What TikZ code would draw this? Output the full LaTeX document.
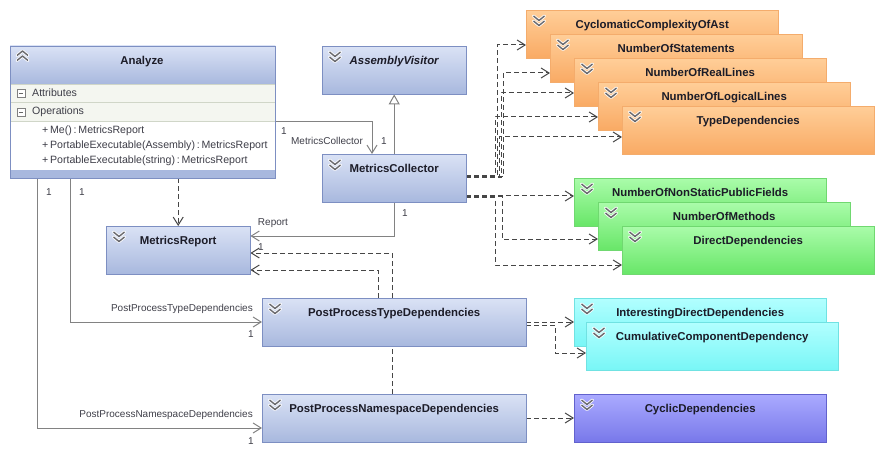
\documentclass[tikz,border=0pt]{standalone}
\usepackage{fontspec}
\setmainfont{Liberation Sans}
\usetikzlibrary{arrows.meta,backgrounds}

\definecolor{clstop}{RGB}{218,226,245}
\definecolor{clsbot}{RGB}{168,184,222}
\definecolor{clsline}{RGB}{125,143,194}
\definecolor{ortop}{RGB}{255,206,152}
\definecolor{orbot}{RGB}{249,170,100}
\definecolor{orline}{RGB}{244,172,108}
\definecolor{grtop}{RGB}{170,252,170}
\definecolor{grbot}{RGB}{104,230,104}
\definecolor{grline}{RGB}{112,216,112}
\definecolor{cytop}{RGB}{178,255,255}
\definecolor{cybot}{RGB}{120,246,246}
\definecolor{cyline}{RGB}{112,226,226}
\definecolor{putop}{RGB}{170,170,255}
\definecolor{pubot}{RGB}{120,120,234}
\definecolor{puline}{RGB}{98,98,205}
\definecolor{rowbg}{RGB}{244,246,240}
\definecolor{rowline}{RGB}{208,214,200}
\definecolor{txtdark}{RGB}{28,28,40}
\definecolor{linegray}{RGB}{130,130,130}
\definecolor{dashgray}{RGB}{70,70,70}
\definecolor{chevgray}{RGB}{105,105,110}

\newcommand\ttlfont{\fontsize{11.4}{13}\selectfont\bfseries}
\newcommand\lblfont{\fontsize{10}{12}\selectfont}
\newcommand\opsfont{\fontsize{10.6}{12}\selectfont}

\tikzset{
  chevdn/.pic={
    \draw[white, line width=3pt, line cap=round, line join=round]
      (-5.5,0) -- (0,4.5) -- (5.5,0) (-5.5,5) -- (0,9.5) -- (5.5,5);
    \draw[chevgray, line width=1.4pt, line join=round]
      (-5.5,0) -- (0,4.5) -- (5.5,0) (-5.5,5) -- (0,9.5) -- (5.5,5);
  },
  chevup/.pic={
    \draw[white, line width=3pt, line cap=round, line join=round]
      (-5.5,4.5) -- (0,0) -- (5.5,4.5) (-5.5,9.5) -- (0,5) -- (5.5,9.5);
    \draw[chevgray, line width=1.4pt, line join=round]
      (-5.5,4.5) -- (0,0) -- (5.5,4.5) (-5.5,9.5) -- (0,5) -- (5.5,9.5);
  }
}

\begin{document}
\begin{tikzpicture}[x=1pt,y=-1pt,
  clsbox/.style={draw=clsline, top color=clstop, bottom color=clsbot, anchor=north west,
    inner sep=0pt, minimum width=144, minimum height=48, text height=18pt, text depth=30pt,
    font=\ttlfont, text=txtdark},
  wide/.style={minimum width=252},
  metbox/.style={clsbox, wide, draw=orline, top color=ortop, bottom color=orbot},
  grnbox/.style={clsbox, wide, draw=grline, top color=grtop, bottom color=grbot},
  cynbox/.style={clsbox, wide, draw=cyline, top color=cytop, bottom color=cybot},
  cycbox/.style={clsbox, wide, draw=puline, top color=putop, bottom color=pubot},
  anbox/.style={draw=clsline, fill=white, anchor=north west, inner sep=0pt,
    minimum width=265, minimum height=132},
  minusbox/.style={draw=gray, fill=white, minimum size=8, inner sep=0pt,
    path picture={\draw[gray!80!black] ([xshift=2pt]path picture bounding box.west)
      -- ([xshift=-2pt]path picture bounding box.east);}},
  lbl/.style={font=\lblfont, text=txtdark!85, inner sep=0pt},
  opl/.style={font=\opsfont, text=txtdark!85, inner sep=0pt, anchor=west},
  assoc/.style={draw=linegray, line width=1pt, -{Straight Barb[length=8pt,width=10pt]}},
  dep/.style={draw=dashgray, line width=1pt, dash pattern=on 5pt off 3pt,
    -{Straight Barb[length=8pt,width=10pt]}},
  gen/.style={draw=linegray, line width=1pt, -{Triangle[open,length=10pt,width=11pt,fill=white]}}
]
\useasboundingbox (0,0) rectangle (883,457);

% Analyze class
\node[anbox] (an) at (10,46) {};
\shade[top color=clstop, bottom color=clsbot] (an.north west) rectangle ([yshift=-38pt]an.north east);
\fill[rowbg] ([yshift=-38pt]an.north west) rectangle ([yshift=-75pt]an.north east);
\draw[rowline] ([yshift=-38pt]an.north west) -- ([yshift=-38pt]an.north east);
\draw[rowline] ([yshift=-56pt]an.north west) -- ([yshift=-56pt]an.north east);
\draw[rowline] ([yshift=-75pt]an.north west) -- ([yshift=-75pt]an.north east);
\fill[clsbot] ([yshift=8pt]an.south west) rectangle (an.south east);
\draw[clsline] (an.north west) rectangle (an.south east);
\pic at ([shift={(12.5,5)}]an.north west) {chevup};
\node[font=\ttlfont, text=txtdark, anchor=base] (antitle) at (142,65) {Analyze};
\node[minusbox] (attbox) at (21,93) {};
\node[opl] (att) at (32,93) {Attributes};
\node[minusbox] (opsbox) at (21,112) {};
\node[opl] (ops) at (32,112) {Operations};
\node[opl] (op1) at (42,131) {+\,Me()\,:\,MetricsReport};
\node[opl] (op2) at (42,146) {+\,PortableExecutable(Assembly)\,:\,MetricsReport};
\node[opl] (op3) at (42,161) {+\,PortableExecutable(string)\,:\,MetricsReport};

% blue classes
\node[clsbox] (av) at (322,46) {\itshape AssemblyVisitor};
\node[clsbox] (mc) at (322,154) {MetricsCollector};
\node[clsbox] (mr) at (106,226) {MetricsReport};
\node[clsbox, minimum width=264] (pt) at (262,298) {PostProcessTypeDependencies};
\node[clsbox, minimum width=264] (pn) at (262,394) {PostProcessNamespaceDependencies};

% metrics
\node[metbox] (cc) at (526,10) {CyclomaticComplexityOfAst};
\node[metbox] (ns) at (550,34) {NumberOfStatements};
\node[metbox] (nr) at (574,58) {NumberOfRealLines};
\node[metbox] (nl) at (598,82) {NumberOfLogicalLines};
\node[metbox] (td) at (622,106) {TypeDependencies};
\node[grnbox] (nf) at (574,178) {NumberOfNonStaticPublicFields};
\node[grnbox] (nm) at (598,202) {NumberOfMethods};
\node[grnbox] (dd) at (622,226) {DirectDependencies};
\node[cynbox] (idd) at (574,298) {InterestingDirectDependencies};
\node[cynbox] (ccd) at (586,322) {CumulativeComponentDependency};
\node[cycbox] (cyc) at (574,394) {CyclicDependencies};

\foreach \b in {av,mc,mr,pt,pn,cc,ns,nr,nl,td,nf,nm,dd,idd,ccd,cyc}
  \pic at ([shift={(13,6)}]\b.north west) {chevdn};

% connectors
\begin{scope}[on background layer]
\draw[assoc] (an.east |- 0,122) -| ([xshift=50pt]mc.north west);
\draw[gen] (mc.north) -- (av.south);
\draw[assoc] (mc.south) |- (mr.east |- 0,236);
\draw[dep] (an.south -| mr.north) -- (mr.north);
\draw[assoc] (an.south -| 70,0) |- (pt.west |- 0,322);
\draw[assoc] (an.south -| 37,0) |- (pn.west |- 0,428);
\draw[dep] (pt.north -| 378,0) |- (mr.east |- 0,270);
\draw[dep] (pn.north -| 392,0) |- (mr.east |- 0,253);

\draw[dep] (mc.east |- 0,176) -- ++(31,0) |- (cc.west |- 0,45);
\draw[dep] (mc.east |- 0,177) -- ++(37,0) |- (ns.west |- 0,73);
\draw[dep] (mc.east |- 0,178) -- ++(35,0) |- (nr.west |- 0,93);
\draw[dep] (mc.east |- 0,176) -- ++(29,0) |- (nl.west |- 0,117);
\draw[dep] (mc.east |- 0,178) -- ++(33,0) |- (td.west |- 0,137);

\draw[dep] (mc.east |- 0,196) -- (nf.west |- 0,196);
\draw[dep] (mc.east |- 0,197) -- ++(36,0) |- (nm.west |- 0,239);
\draw[dep] (mc.east |- 0,198) -- ++(29,0) |- (dd.west |- 0,265);

\draw[dep] (pt.east |- 0,322) -- (idd.west |- 0,322);
\draw[dep] (pt.east |- 0,325) -- ++(29,0) |- (ccd.west |- 0,353);
\draw[dep] (pn.east |- 0,418) -- (cyc.west |- 0,418);
\end{scope}

% labels
\node[lbl] (l1) at (284,131) {1};
\node[lbl] (lmc) at (327,141) {MetricsCollector};
\node[lbl] (l2) at (384,141) {1};
\node[lbl] (l3) at (405,213) {1};
\node[lbl] (lrep) at (273,223) {Report};
\node[lbl] (l4) at (261,247) {1};
\node[lbl] (l5) at (49,192) {1};
\node[lbl] (l6) at (82,192) {1};
\node[lbl, anchor=east] (lpt) at (253,309) {PostProcessTypeDependencies};
\node[lbl] (l7) at (251,334) {1};
\node[lbl, anchor=east] (lpn) at (253,415) {PostProcessNamespaceDependencies};
\node[lbl] (l8) at (251,441) {1};

\end{tikzpicture}
\end{document}
